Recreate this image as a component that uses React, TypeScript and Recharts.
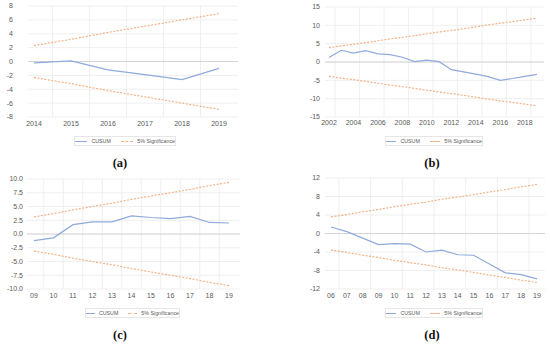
import React from 'react'
import {
  LineChart,
  Line,
  XAxis,
  YAxis,
  CartesianGrid,
  ReferenceLine,
} from 'recharts'

const yearsA = ['2014', '2015', '2016', '2017', '2018', '2019']
const cusumA = [-0.2, 0.1, -1.2, -1.9, -2.6, -1.0]
const upperA = [2.3, 3.2, 4.2, 5.1, 6.0, 6.9]
const lowerA = [-2.3, -3.2, -4.2, -5.1, -6.0, -6.9]
const ticksA = [-8, -6, -4, -2, 0, 2, 4, 6, 8]

const yearsB = [
  '2002', '2003', '2004', '2005', '2006', '2007', '2008', '2009', '2010',
  '2011', '2012', '2013', '2014', '2015', '2016', '2017', '2018', '2019',
]
const cusumB = [1.2, 3.2, 2.4, 3.1, 2.2, 2.0, 1.3, 0.1, 0.5, 0.1, -2.1, -2.7, -3.3, -4.0, -5.0, -4.5, -3.9, -3.4]
const upperB = [3.9, 4.4, 4.8, 5.3, 5.8, 6.3, 6.7, 7.2, 7.7, 8.2, 8.6, 9.1, 9.6, 10.1, 10.6, 11.0, 11.5, 12.0]
const lowerB = [-3.9, -4.4, -4.8, -5.3, -5.8, -6.3, -6.7, -7.2, -7.7, -8.2, -8.6, -9.1, -9.6, -10.1, -10.6, -11.0, -11.5, -12.0]
const ticksB = [-15, -10, -5, 0, 5, 10, 15]

const yearsC = ['09', '10', '11', '12', '13', '14', '15', '16', '17', '18', '19']
const cusumC = [-1.2, -0.7, 1.7, 2.2, 2.2, 3.3, 3.0, 2.8, 3.2, 2.1, 2.0]
const upperC = [3.1, 3.7, 4.4, 5.0, 5.6, 6.3, 6.9, 7.5, 8.1, 8.8, 9.4]
const lowerC = [-3.1, -3.7, -4.4, -5.0, -5.6, -6.3, -6.9, -7.5, -8.1, -8.8, -9.4]
const ticksC = [-10, -7.5, -5, -2.5, 0, 2.5, 5, 7.5, 10]

const yearsD = ['06', '07', '08', '09', '10', '11', '12', '13', '14', '15', '16', '17', '18', '19']
const cusumD = [1.4, 0.4, -1.0, -2.4, -2.2, -2.3, -4.0, -3.6, -4.6, -4.7, -6.6, -8.5, -8.9, -9.8]
const upperD = [3.6, 4.1, 4.7, 5.2, 5.8, 6.3, 6.8, 7.4, 7.9, 8.4, 9.0, 9.5, 10.1, 10.6]
const lowerD = [-3.6, -4.1, -4.7, -5.2, -5.8, -6.3, -6.8, -7.4, -7.9, -8.4, -9.0, -9.5, -10.1, -10.6]
const ticksD = [-12, -8, -4, 0, 4, 8, 12]

const BLUE = '#8faadc'
const ORANGE = '#f4b183'
const TICK_FONT = { fill: '#595959', fontSize: 7, fontFamily: 'Liberation Sans, Arial, sans-serif' }

function build(years: string[], cusum: number[], upper: number[], lower: number[]) {
  return years.map((year, i) => ({
    year,
    cusum: cusum[i],
    upper: upper[i],
    lower: lower[i],
  }))
}

interface PanelProps {
  x: number
  y: number
  tag: string
  data: ReturnType<typeof build>
  ticks: number[]
  yWidth: number
  yMargin: number
  marginTop: number
  marginRight: number
  padL: number
  padR: number
  xTickMargin: number
  xInterval: number
  gridEvery: number
  fmt?: (v: number) => string
  legendX: number
  legendW: number
  tagX: number
}

function Panel(p: PanelProps) {
  const n = p.data.length
  // vertical grid sits half way between categories, like the Excel original
  const plotW = 275 - p.yWidth - p.marginRight
  const step = (plotW - p.padL - p.padR) / (n - 1)
  const vLines: number[] = []
  for (let i = 0; i < n - 1; i += p.gridEvery) {
    vLines.push(p.yWidth + p.padL + (i + 0.5) * step)
  }
  return (
    <div style={{ position: 'absolute', left: p.x, top: p.y, width: 275, height: 172 }}>
      <LineChart
        width={275}
        height={130}
        data={p.data}
        margin={{ top: p.marginTop, right: p.marginRight, bottom: 0, left: 0 }}
      >
        <CartesianGrid stroke="#ebebeb" strokeWidth={0.8} verticalPoints={vLines} />
        <XAxis
          dataKey="year"
          axisLine={false}
          tickLine={false}
          tickSize={0}
          tickMargin={p.xTickMargin}
          height={13}
          interval={p.xInterval}
          padding={{ left: p.padL, right: p.padR }}
          tick={TICK_FONT}
        />
        <YAxis
          width={p.yWidth}
          domain={[p.ticks[0], p.ticks[p.ticks.length - 1]]}
          ticks={p.ticks}
          axisLine={false}
          tickLine={false}
          tickSize={0}
          tickMargin={p.yMargin}
          tick={TICK_FONT}
          tickFormatter={p.fmt}
          interval={0}
        />
        <ReferenceLine y={0} stroke="#d4d4d4" strokeWidth={1} />
        <Line
          dataKey="upper"
          stroke={ORANGE}
          strokeWidth={1.2}
          strokeDasharray="2 1.5"
          dot={false}
          isAnimationActive={false}
        />
        <Line
          dataKey="lower"
          stroke={ORANGE}
          strokeWidth={1.2}
          strokeDasharray="2 1.5"
          dot={false}
          isAnimationActive={false}
        />
        <Line
          dataKey="cusum"
          stroke={BLUE}
          strokeWidth={1.2}
          dot={false}
          isAnimationActive={false}
        />
      </LineChart>
      <div
        style={{
          position: 'absolute',
          left: p.legendX,
          top: 136,
          width: p.legendW,
          height: 10,
          border: '1px solid #e6e6e6',
          boxSizing: 'border-box',
          display: 'flex',
          alignItems: 'center',
          justifyContent: 'center',
          whiteSpace: 'nowrap',
          fontFamily: 'Liberation Sans, Arial, sans-serif',
          fontSize: 5.3,
          color: '#595959',
        }}
      >
        <span style={{ width: 13, height: 0, borderTop: `1.2px solid ${BLUE}`, marginRight: 4 }} />
        <span>CUSUM</span>
        <span style={{ width: 13, height: 0, borderTop: `1.2px dashed ${ORANGE}`, marginLeft: 10, marginRight: 4 }} />
        <span>5% Significance</span>
      </div>
      <div
        style={{
          position: 'absolute',
          left: p.tagX - 20,
          width: 40,
          top: 156,
          textAlign: 'center',
          fontFamily: 'Liberation Serif, Times New Roman, serif',
          fontWeight: 'bold',
          fontSize: 12.5,
          color: '#111',
        }}
      >
        {p.tag}
      </div>
    </div>
  )
}

export default function App() {
  return (
    <div style={{ position: 'absolute', left: 0, top: 0, width: 550, height: 344, background: '#fff' }}>
      <Panel
        x={0}
        y={0}
        tag="(a)"
        data={build(yearsA, cusumA, upperA, lowerA)}
        ticks={ticksA}
        yWidth={28}
        yMargin={15}
        marginTop={6}
        marginRight={37}
        padL={6}
        padR={19}
        xTickMargin={4}
        xInterval={0}
        gridEvery={1}
        legendX={74}
        legendW={102}
        tagX={120}
      />
      <Panel
        x={275}
        y={0}
        tag="(b)"
        data={build(yearsB, cusumB, upperB, lowerB)}
        ticks={ticksB}
        yWidth={50}
        yMargin={5}
        marginTop={7}
        marginRight={6}
        padL={4}
        padR={7}
        xTickMargin={3.5}
        xInterval={1}
        gridEvery={2}
        legendX={110}
        legendW={98}
        tagX={157}
      />
      <Panel
        x={0}
        y={172}
        tag="(c)"
        data={build(yearsC, cusumC, upperC, lowerC)}
        ticks={ticksC}
        yWidth={27}
        yMargin={4}
        marginTop={7}
        marginRight={35}
        padL={7}
        padR={11}
        xTickMargin={4}
        xInterval={0}
        gridEvery={1}
        fmt={(v: number) => v.toFixed(1)}
        legendX={85}
        legendW={95}
        tagX={120}
      />
      <Panel
        x={275}
        y={172}
        tag="(d)"
        data={build(yearsD, cusumD, upperD, lowerD)}
        ticks={ticksD}
        yWidth={50}
        yMargin={5}
        marginTop={6}
        marginRight={5}
        padL={6}
        padR={8}
        xTickMargin={4}
        xInterval={0}
        gridEvery={2}
        legendX={110}
        legendW={98}
        tagX={157}
      />
    </div>
  )
}
